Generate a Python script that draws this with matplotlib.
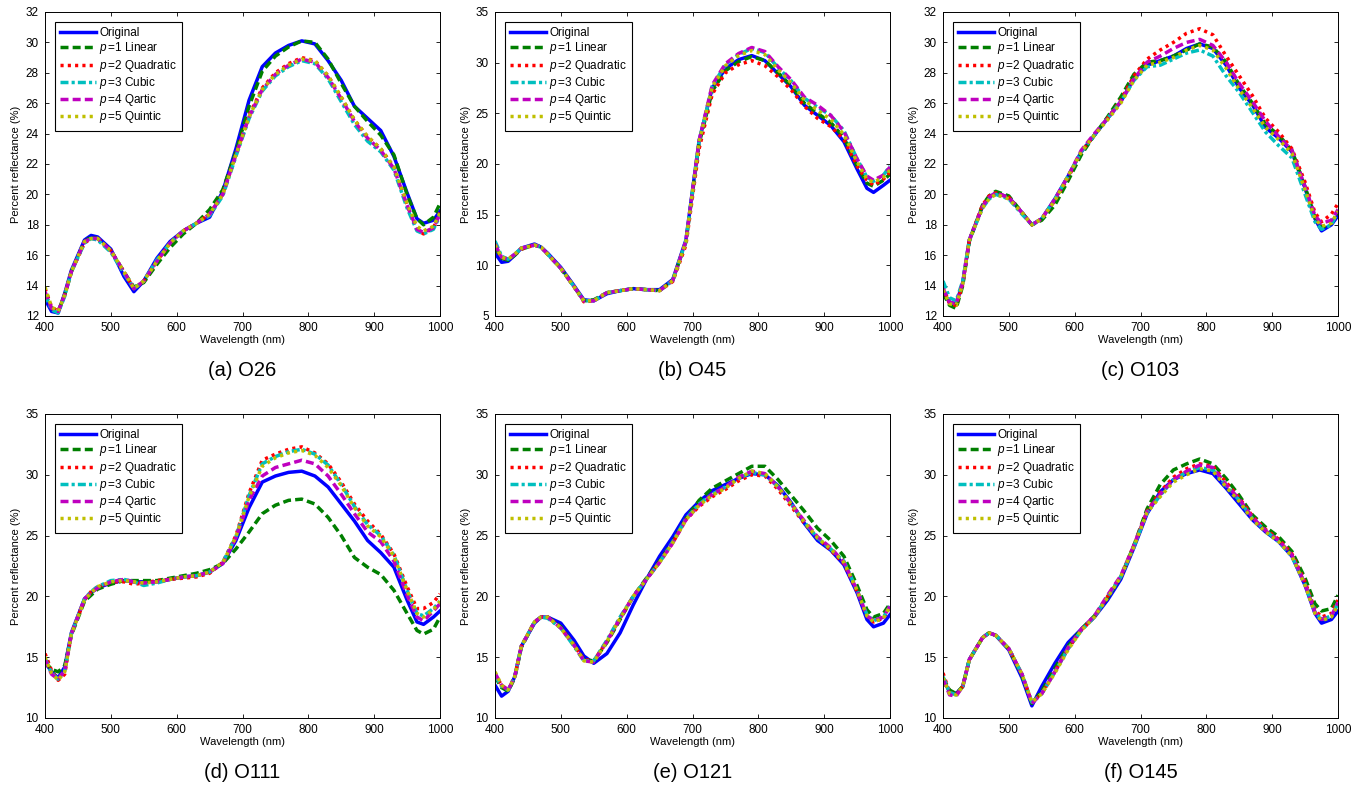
import numpy as np
import matplotlib
matplotlib.use('Agg')
import matplotlib.pyplot as plt

plt.rcParams['font.family'] = ['Liberation Sans', 'DejaVu Sans']
plt.rcParams['mathtext.fontset'] = 'custom'
plt.rcParams['mathtext.rm'] = 'Liberation Sans'
plt.rcParams['mathtext.it'] = 'Liberation Sans:italic'

# wavelength samples (nm), shared by every curve
wl = [400, 410, 420, 430, 440, 460, 470, 480, 500, 520, 535, 550, 570, 590, 610, 630, 650, 670,
      690, 710, 730, 750, 770, 790, 810, 830, 850, 870, 890, 910, 930, 950, 965, 975, 990, 1000]

# (a) O26
a_orig = [13.1, 12.3, 12.2, 13.5, 15.0, 17.0, 17.3, 17.2, 16.4, 14.6, 13.6, 14.3, 15.8, 16.9, 17.6, 18.1, 18.5, 20.2,
          23.0, 26.2, 28.4, 29.3, 29.8, 30.1, 29.9, 28.8, 27.5, 25.8, 25.0, 24.2, 22.5, 20.1, 18.4, 18.1, 18.3, 18.9]
a_p1 = [13.5, 12.5, 12.3, 13.4, 14.9, 16.9, 17.2, 17.1, 16.3, 14.9, 13.9, 14.2, 15.4, 16.5, 17.4, 18.1, 19.0, 20.3,
        22.8, 25.8, 28.1, 29.1, 29.7, 30.1, 30.0, 28.9, 27.3, 25.8, 24.8, 23.9, 22.6, 20.0, 18.4, 18.0, 18.5, 19.4]
a_p2 = [13.8, 12.6, 12.3, 13.4, 14.9, 16.8, 17.1, 17.1, 16.3, 14.9, 13.8, 14.3, 15.6, 16.8, 17.6, 18.1, 18.7, 20.0,
        22.6, 25.2, 27.0, 28.0, 28.6, 29.0, 28.8, 27.8, 26.4, 24.9, 23.8, 23.0, 21.8, 19.3, 17.7, 17.4, 17.8, 18.8]
a_p3 = [13.4, 12.4, 12.2, 13.3, 14.9, 16.8, 17.1, 17.0, 16.2, 14.8, 13.8, 14.3, 15.7, 16.8, 17.6, 18.1, 18.6, 19.9,
        22.5, 25.0, 26.8, 27.8, 28.4, 28.8, 28.6, 27.6, 26.1, 24.6, 23.5, 22.8, 21.6, 19.1, 17.6, 17.4, 17.7, 18.6]
a_p4 = [13.6, 12.5, 12.3, 13.4, 14.9, 16.9, 17.1, 17.1, 16.3, 14.9, 13.8, 14.3, 15.6, 16.8, 17.6, 18.1, 18.7, 20.0,
        22.6, 25.1, 26.9, 27.9, 28.5, 28.9, 28.7, 27.7, 26.3, 24.8, 23.7, 22.9, 21.7, 19.3, 17.7, 17.5, 17.8, 18.7]
a_p5 = [13.9, 12.6, 12.3, 13.4, 14.9, 16.9, 17.1, 17.1, 16.3, 14.9, 13.8, 14.3, 15.6, 16.8, 17.6, 18.1, 18.7, 20.0,
        22.6, 25.1, 26.9, 27.9, 28.5, 28.9, 28.8, 27.8, 26.4, 24.9, 23.8, 23.0, 21.8, 19.4, 17.9, 17.6, 17.9, 18.8]

# (b) O45
b_orig = [11.2, 10.3, 10.4, 11.0, 11.7, 12.1, 11.8, 11.2, 9.8, 8.0, 6.6, 6.5, 7.2, 7.5, 7.7, 7.6, 7.6, 8.6,
          12.5, 22.3, 27.5, 29.4, 30.3, 30.7, 30.2, 28.9, 27.6, 25.8, 24.8, 23.8, 22.2, 19.5, 17.6, 17.2, 17.9, 18.4]
b_p1 = [11.8, 10.7, 10.5, 11.0, 11.6, 12.0, 11.8, 11.1, 9.7, 7.9, 6.5, 6.6, 7.3, 7.5, 7.7, 7.6, 7.5, 8.5,
        12.3, 22.0, 27.2, 29.2, 30.1, 30.6, 30.2, 29.0, 27.7, 26.0, 25.0, 24.1, 22.6, 19.8, 18.1, 17.8, 18.4, 19.0]
b_p2 = [11.9, 10.8, 10.6, 11.1, 11.6, 12.0, 11.8, 11.1, 9.7, 7.9, 6.4, 6.5, 7.3, 7.5, 7.7, 7.6, 7.5, 8.4,
        12.0, 21.5, 26.9, 29.0, 29.8, 30.2, 29.7, 28.6, 27.3, 25.7, 24.5, 23.7, 22.4, 19.8, 18.4, 17.9, 18.5, 19.2]
b_p3 = [12.4, 10.9, 10.6, 11.1, 11.7, 12.0, 11.8, 11.1, 9.7, 7.9, 6.5, 6.5, 7.3, 7.5, 7.7, 7.6, 7.5, 8.5,
        12.4, 22.2, 27.7, 29.8, 30.8, 31.4, 31.0, 29.5, 28.2, 26.5, 25.6, 24.8, 23.3, 20.5, 18.7, 18.3, 18.9, 19.8]
b_p4 = [12.1, 10.8, 10.6, 11.1, 11.7, 12.0, 11.8, 11.1, 9.7, 7.9, 6.5, 6.5, 7.3, 7.5, 7.7, 7.6, 7.5, 8.5,
        12.4, 22.3, 27.8, 29.9, 30.9, 31.5, 31.1, 29.6, 28.3, 26.6, 25.8, 24.8, 23.2, 20.5, 18.8, 18.4, 18.9, 19.7]
b_p5 = [12.0, 10.8, 10.6, 11.1, 11.7, 12.0, 11.8, 11.1, 9.7, 7.9, 6.5, 6.5, 7.3, 7.5, 7.7, 7.6, 7.5, 8.5,
        12.3, 22.2, 27.6, 29.7, 30.7, 31.2, 30.8, 29.3, 28.0, 26.3, 25.3, 24.4, 22.9, 20.2, 18.5, 18.2, 18.7, 19.4]

# (c) O103
c_orig = [13.6, 12.9, 12.8, 14.2, 17.0, 19.2, 19.8, 20.1, 19.8, 18.8, 18.0, 18.4, 19.7, 21.2, 22.8, 23.9, 25.0, 26.1,
          27.6, 28.5, 28.8, 29.1, 29.6, 29.9, 29.6, 28.5, 27.0, 25.9, 24.4, 23.7, 22.8, 20.4, 18.4, 17.6, 18.0, 18.6]
c_p1 = [13.5, 12.7, 12.5, 14.0, 16.9, 19.3, 19.9, 20.2, 19.9, 18.8, 18.0, 18.3, 19.3, 20.9, 22.6, 23.9, 25.1, 26.4,
        27.9, 28.7, 28.8, 29.1, 29.5, 29.9, 29.7, 28.7, 27.2, 26.0, 24.6, 23.9, 22.9, 20.5, 18.5, 17.8, 18.1, 18.8]
c_p2 = [13.9, 12.8, 12.7, 14.1, 17.0, 19.3, 19.9, 20.1, 19.8, 18.8, 18.0, 18.4, 19.6, 21.1, 22.8, 23.9, 25.0, 26.2,
        27.8, 28.9, 29.5, 30.0, 30.6, 30.9, 30.5, 29.1, 27.8, 26.5, 25.0, 24.1, 23.0, 20.8, 18.8, 18.2, 18.7, 19.4]
c_p3 = [14.3, 13.2, 13.0, 14.3, 17.0, 19.1, 19.7, 20.0, 19.7, 18.7, 18.0, 18.4, 19.7, 21.2, 22.8, 23.9, 25.0, 26.1,
        27.5, 28.4, 28.5, 28.9, 29.3, 29.5, 29.1, 27.8, 26.7, 25.4, 24.1, 23.2, 22.4, 20.0, 18.2, 17.7, 18.0, 18.9]
c_p4 = [13.8, 12.9, 12.8, 14.2, 17.0, 19.2, 19.8, 20.1, 19.8, 18.8, 18.0, 18.4, 19.7, 21.2, 22.9, 24.0, 25.0, 26.1,
        27.6, 28.7, 29.1, 29.6, 30.0, 30.2, 29.8, 28.7, 27.3, 26.1, 24.8, 23.8, 22.9, 20.5, 18.6, 18.1, 18.3, 19.0]
c_p5 = [13.7, 12.8, 12.7, 14.1, 17.0, 19.1, 19.7, 20.0, 19.7, 18.8, 18.0, 18.4, 19.6, 21.2, 22.8, 23.9, 24.9, 26.0,
        27.5, 28.5, 28.7, 29.0, 29.5, 29.8, 29.5, 28.3, 26.9, 25.7, 24.4, 23.6, 22.7, 20.3, 18.4, 17.9, 18.1, 18.9]

# (d) O111
d_orig = [14.6, 13.8, 13.3, 14.2, 17.0, 19.8, 20.3, 20.7, 21.1, 21.3, 21.2, 21.2, 21.2, 21.4, 21.6, 21.7, 22.0, 22.7,
          24.6, 27.3, 29.4, 29.9, 30.2, 30.3, 29.9, 29.0, 27.6, 26.2, 24.6, 23.6, 22.4, 19.7, 17.9, 17.7, 18.3, 18.8]
d_p1 = [14.6, 14.0, 13.8, 14.3, 16.8, 19.6, 20.1, 20.6, 21.0, 21.3, 21.3, 21.3, 21.3, 21.5, 21.7, 21.9, 22.2, 22.7,
        23.9, 25.3, 26.8, 27.5, 27.9, 28.0, 27.6, 26.5, 25.0, 23.2, 22.4, 21.8, 20.5, 18.6, 17.2, 16.9, 17.3, 18.3]
d_p2 = [15.3, 13.9, 13.1, 13.6, 16.9, 19.7, 20.4, 20.8, 21.2, 21.2, 21.0, 21.1, 21.3, 21.4, 21.5, 21.6, 21.9, 22.8,
        25.0, 28.5, 31.2, 31.7, 32.1, 32.3, 31.8, 30.9, 29.4, 27.6, 26.2, 25.1, 23.5, 20.8, 19.0, 19.0, 19.5, 20.2]
d_p3 = [14.9, 13.7, 13.2, 13.9, 16.9, 19.8, 20.4, 20.8, 21.3, 21.4, 21.2, 20.9, 21.1, 21.4, 21.6, 21.7, 22.0, 22.8,
        24.9, 28.3, 30.9, 31.5, 31.9, 32.1, 31.7, 30.8, 29.2, 27.4, 25.9, 25.0, 23.4, 20.5, 18.6, 18.4, 19.0, 19.6]
d_p4 = [14.8, 13.6, 13.2, 13.9, 16.9, 19.8, 20.3, 20.7, 21.2, 21.4, 21.2, 21.1, 21.2, 21.4, 21.6, 21.7, 22.0, 22.7,
        24.8, 27.9, 29.9, 30.6, 30.9, 31.2, 30.9, 29.9, 28.4, 26.8, 25.3, 24.5, 22.9, 20.1, 18.3, 18.0, 18.8, 19.4]
d_p5 = [15.0, 13.7, 13.1, 13.8, 16.9, 19.7, 20.3, 20.8, 21.2, 21.3, 21.2, 21.1, 21.2, 21.4, 21.6, 21.7, 22.0, 22.8,
        24.9, 28.2, 30.7, 31.4, 31.8, 32.0, 31.6, 30.6, 29.1, 27.3, 25.8, 24.9, 23.3, 20.5, 18.6, 18.3, 18.9, 19.6]

# (e) O121
e_orig = [12.7, 11.8, 12.2, 13.4, 15.9, 17.8, 18.3, 18.3, 17.8, 16.4, 15.1, 14.5, 15.3, 17.0, 19.3, 21.4, 23.3, 24.9,
          26.7, 27.8, 28.7, 29.2, 29.7, 30.1, 30.0, 29.1, 27.7, 26.0, 24.6, 23.8, 22.6, 20.3, 18.1, 17.5, 17.8, 18.5]
e_p1 = [13.4, 12.5, 12.2, 13.3, 15.8, 17.9, 18.3, 18.3, 17.5, 16.0, 14.8, 14.7, 16.2, 18.1, 20.0, 21.5, 22.9, 24.5,
        26.4, 27.9, 28.9, 29.5, 30.1, 30.7, 30.7, 29.6, 28.3, 27.0, 25.6, 24.6, 23.3, 20.9, 18.9, 18.3, 18.6, 19.4]
e_p2 = [13.6, 12.7, 12.3, 13.4, 15.9, 17.9, 18.3, 18.3, 17.4, 16.0, 14.8, 14.7, 16.3, 18.2, 20.0, 21.4, 22.8, 24.4,
        26.3, 27.4, 28.2, 28.8, 29.5, 30.0, 29.9, 28.8, 27.4, 26.0, 24.8, 23.8, 22.7, 20.4, 18.4, 17.9, 18.2, 19.1]
e_p3 = [13.5, 12.6, 12.3, 13.4, 15.9, 17.9, 18.3, 18.2, 17.4, 15.9, 14.7, 14.7, 16.4, 18.3, 20.0, 21.4, 22.8, 24.5,
        26.4, 27.6, 28.4, 29.0, 29.7, 30.2, 30.0, 29.0, 27.6, 26.1, 24.8, 23.9, 22.9, 20.5, 18.5, 18.0, 18.3, 19.2]
e_p4 = [13.7, 12.7, 12.3, 13.4, 15.9, 17.9, 18.3, 18.3, 17.4, 16.0, 14.7, 14.6, 16.3, 18.2, 20.0, 21.4, 22.8, 24.4,
        26.3, 27.5, 28.4, 29.0, 29.8, 30.3, 30.1, 29.0, 27.6, 26.2, 24.9, 24.0, 22.8, 20.5, 18.4, 18.0, 18.3, 19.2]
e_p5 = [13.8, 12.7, 12.3, 13.4, 15.9, 17.9, 18.3, 18.3, 17.4, 16.0, 14.7, 14.6, 16.3, 18.2, 20.0, 21.4, 22.8, 24.4,
        26.3, 27.5, 28.3, 28.9, 29.7, 30.3, 30.1, 29.0, 27.6, 26.1, 24.8, 23.9, 22.8, 20.5, 18.4, 17.9, 18.2, 19.2]

# (f) O145
f_orig = [13.1, 12.2, 12.0, 12.6, 14.8, 16.6, 17.0, 16.8, 15.6, 13.3, 11.0, 12.6, 14.5, 16.2, 17.3, 18.3, 19.7, 21.4,
          24.0, 26.8, 28.6, 29.6, 30.1, 30.4, 30.1, 28.9, 27.6, 26.3, 25.3, 24.5, 23.3, 20.9, 18.6, 17.8, 18.1, 18.8]
f_p1 = [13.3, 12.3, 12.0, 12.6, 14.8, 16.6, 17.0, 16.8, 15.7, 13.5, 11.2, 12.2, 14.1, 15.9, 17.3, 18.4, 19.9, 21.6,
        24.2, 27.2, 29.2, 30.4, 30.9, 31.3, 30.9, 29.7, 28.3, 26.7, 25.7, 24.9, 23.7, 21.5, 19.4, 18.8, 19.0, 20.1]
f_p2 = [13.7, 12.1, 11.9, 12.6, 14.8, 16.6, 17.0, 16.8, 15.7, 13.6, 11.3, 12.0, 13.8, 15.7, 17.2, 18.3, 20.0, 21.6,
        24.2, 27.0, 28.6, 29.8, 30.5, 30.9, 30.7, 29.4, 28.1, 26.6, 25.5, 24.7, 23.5, 21.2, 18.9, 18.3, 18.6, 19.7]
f_p3 = [13.4, 12.1, 11.9, 12.6, 14.8, 16.6, 17.0, 16.8, 15.7, 13.6, 11.3, 12.0, 13.8, 15.7, 17.2, 18.3, 20.0, 21.6,
        24.1, 26.9, 28.3, 29.6, 30.2, 30.6, 30.4, 29.1, 27.9, 26.4, 25.4, 24.5, 23.3, 21.0, 18.7, 18.1, 18.4, 19.4]
f_p4 = [13.2, 11.9, 11.8, 12.6, 14.8, 16.6, 17.0, 16.8, 15.7, 13.6, 11.2, 12.0, 13.8, 15.8, 17.3, 18.4, 20.1, 21.7,
        24.2, 27.0, 28.4, 29.6, 30.3, 30.8, 30.6, 29.2, 28.0, 26.5, 25.4, 24.6, 23.4, 21.0, 18.7, 18.1, 18.4, 19.5]
f_p5 = [13.3, 12.0, 11.9, 12.6, 14.8, 16.6, 17.0, 16.8, 15.7, 13.6, 11.3, 12.0, 13.7, 15.6, 17.2, 18.3, 19.9, 21.6,
        24.1, 26.9, 28.2, 29.4, 30.0, 30.5, 30.3, 29.0, 27.8, 26.3, 25.3, 24.5, 23.3, 20.9, 18.6, 18.0, 18.3, 19.3]

panels = [
    ('(a) O26', [a_orig, a_p1, a_p2, a_p3, a_p4, a_p5], (12, 32), np.arange(12, 33, 2)),
    ('(b) O45', [b_orig, b_p1, b_p2, b_p3, b_p4, b_p5], (5, 35), np.arange(5, 36, 5)),
    ('(c) O103', [c_orig, c_p1, c_p2, c_p3, c_p4, c_p5], (12, 32), np.arange(12, 33, 2)),
    ('(d) O111', [d_orig, d_p1, d_p2, d_p3, d_p4, d_p5], (10, 35), np.arange(10, 36, 5)),
    ('(e) O121', [e_orig, e_p1, e_p2, e_p3, e_p4, e_p5], (10, 35), np.arange(10, 36, 5)),
    ('(f) O145', [f_orig, f_p1, f_p2, f_p3, f_p4, f_p5], (10, 35), np.arange(10, 36, 5)),
]

labels = ['Original', r'$p\,$=1 Linear', r'$p\,$=2 Quadratic', r'$p\,$=3 Cubic',
          r'$p\,$=4 Qartic', r'$p\,$=5 Quintic']
colors = ['#0000ff', '#007f00', '#ff0000', '#00bfbf', '#bf00bf', '#bfbf00']
styles = ['-', (0, (2.3, 1.2)), (0, (0.9, 1.2)), (0, (2.3, 0.9, 0.9, 0.9)), (0, (2.3, 1.2)), (0, (0.9, 1.2))]

W, H = 1364, 793
fig = plt.figure(figsize=(W / 100, H / 100), dpi=100)

lefts = [45, 495, 943]
tops = [12, 414]
aw, ah = 395, 304

for k, (title, curves, ylim, yt) in enumerate(panels):
    r, c = divmod(k, 3)
    ax = fig.add_axes([lefts[c] / W, 1 - (tops[r] + ah) / H, aw / W, ah / H])
    for y, lab, col, ls in zip(curves, labels, colors, styles):
        ax.plot(wl, y, color=col, linestyle=ls, linewidth=2.5, label=lab)
    ax.set_xlim(400, 1000)
    ax.set_ylim(*ylim)
    ax.set_xticks(np.arange(400, 1001, 100))
    ax.set_yticks(yt)
    ax.tick_params(direction='in', top=True, right=True, labelsize=8.5, length=3, width=0.6)
    ax.tick_params(axis='x', pad=4.5)
    ax.tick_params(axis='y', pad=4.5)
    for s in ax.spines.values():
        s.set_linewidth(0.7)
    ax.set_xlabel('Wavelength (nm)', fontsize=8, labelpad=0.5)
    ax.set_ylabel('Percent reflectance (%)', fontsize=8, labelpad=3)
    leg = ax.legend(loc='upper left', bbox_to_anchor=(10 / aw, 1 - 10 / ah), borderaxespad=0,
                    fontsize=8.5, handlelength=3.0, labelspacing=0.1, handletextpad=0.3,
                    fancybox=False, framealpha=1, edgecolor='black', borderpad=0.45)
    leg.get_frame().set_linewidth(0.8)
    cap_y = [370, 772][r]
    fig.text((lefts[c] + aw / 2) / W, 1 - cap_y / H, title, ha='center', va='center', fontsize=14.5)

fig.savefig('out.png', dpi=100)
